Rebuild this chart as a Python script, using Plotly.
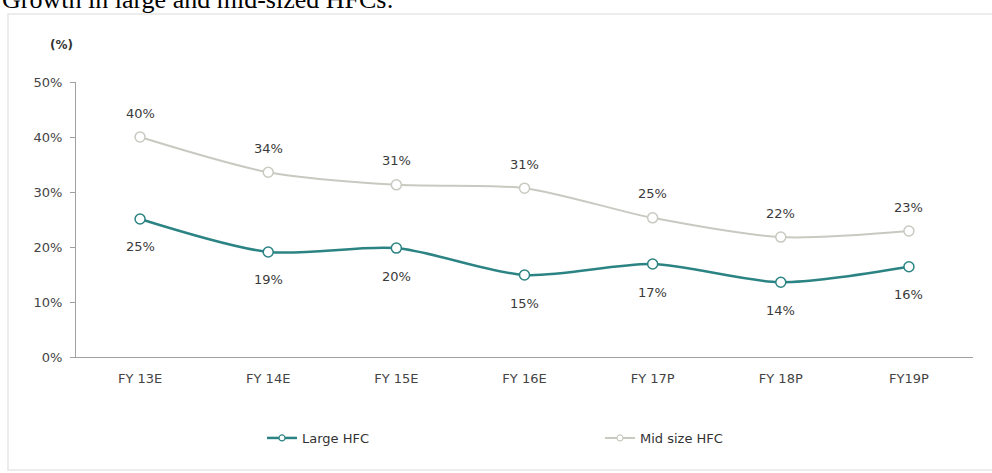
import plotly.graph_objects as go

# Growth data (%)
years = ["FY 13E", "FY 14E", "FY 15E", "FY 16E", "FY 17P", "FY 18P", "FY19P"]
large_hfc = [25.1, 19.1, 19.8, 14.9, 16.9, 13.6, 16.4]
mid_hfc = [40.0, 33.6, 31.3, 30.7, 25.3, 21.8, 22.9]
y_ticks = [0, 10, 20, 30, 40, 50]
y_tick_text = [f"{t}%" for t in y_ticks]

W, H = 992, 473
M_L, M_R, M_T, M_B = 76, 19, 82, 116
PW, PH = W - M_L - M_R, H - M_T - M_B


def px_x(p):
    return (p - M_L) / PW


def px_y(p):
    return (H - M_B - p) / PH


TEAL = "#2C8383"
GREY = "#C9C9C1"
SANS = "DejaVu Sans, Liberation Sans, Arial, sans-serif"
LABEL_FONT = dict(family=SANS, size=13, color="#3A3A3A")

fig = go.Figure()
series = [("Large HFC", large_hfc, TEAL, 2.5, "legend"),
          ("Mid size HFC", mid_hfc, GREY, 2, "legend2")]
for name, vals, color, lw, leg in series:
    fig.add_trace(go.Scatter(
        x=years, y=vals, name=name, mode="lines+markers", showlegend=False,
        line=dict(color=color, width=lw, shape="spline", smoothing=0.8),
        marker=dict(symbol="circle", size=10, color="white", line=dict(color=color, width=1.5)),
    ))
    # legend entry with a smaller marker
    fig.add_trace(go.Scatter(
        x=[None], y=[None], name=name, mode="lines+markers", legend=leg,
        line=dict(color=color, width=lw),
        marker=dict(symbol="circle", size=6, color="white", line=dict(color=color, width=1.2)),
    ))

annotations = []
for yr, v in zip(years, large_hfc):
    annotations.append(dict(x=yr, y=v, text=f"{round(v)}%", showarrow=False,
                            yshift=-28, font=LABEL_FONT))
for yr, v in zip(years, mid_hfc):
    annotations.append(dict(x=yr, y=v, text=f"{round(v)}%", showarrow=False,
                            yshift=24, font=LABEL_FONT))

# unit label above the value axis
annotations.append(dict(xref="paper", yref="paper", x=px_x(61), y=px_y(45),
                        text="<b>(%)</b>", showarrow=False, xanchor="center", yanchor="middle",
                        font=dict(family=SANS, size=12, color="#333333")))

# heading, running off the top edge
annotations.append(dict(xref="paper", yref="paper", x=px_x(0), y=px_y(-1),
                        text="Growth in large and mid-sized HFCs:", showarrow=False,
                        xanchor="left", yanchor="middle",
                        font=dict(family="Liberation Serif, Times New Roman, serif", size=26, color="#000000")))

shapes = [dict(type="rect", xref="paper", yref="paper", layer="below",
               x0=px_x(8), x1=px_x(1010), y0=px_y(470), y1=px_y(14),
               line=dict(color="#E6E6E6", width=1.5), fillcolor="rgba(0,0,0,0)")]

legend_font = dict(family=SANS, size=13, color="#333333")
fig.update_layout(
    width=W, height=H,
    margin=dict(l=M_L, r=M_R, t=M_T, b=M_B),
    paper_bgcolor="white", plot_bgcolor="white",
    font=dict(family=SANS, size=13, color="#444444"),
    showlegend=True,
    legend=dict(orientation="h", x=px_x(262), y=px_y(438), xanchor="left", yanchor="middle",
                font=legend_font, bgcolor="rgba(0,0,0,0)"),
    legend2=dict(orientation="h", x=px_x(600), y=px_y(438), xanchor="left", yanchor="middle",
                 font=legend_font, bgcolor="rgba(0,0,0,0)"),
    annotations=annotations,
    shapes=shapes,
)
fig.update_xaxes(
    type="category", range=[-0.5, 6.5],
    showline=True, linecolor="#A0A0A0", linewidth=1.2,
    showgrid=False, zeroline=False, ticks="", ticklabelstandoff=9,
    tickfont=dict(family=SANS, size=13, color="#444444"), fixedrange=True,
)
fig.update_yaxes(
    range=[0, 50], tickvals=y_ticks, ticktext=y_tick_text,
    showline=True, linecolor="#A0A0A0", linewidth=1.2,
    ticks="outside", ticklen=5, tickcolor="#A0A0A0", ticklabelstandoff=5,
    showgrid=False, zeroline=False,
    tickfont=dict(family=SANS, size=13, color="#444444"), fixedrange=True,
)

fig.write_html("out.html")
